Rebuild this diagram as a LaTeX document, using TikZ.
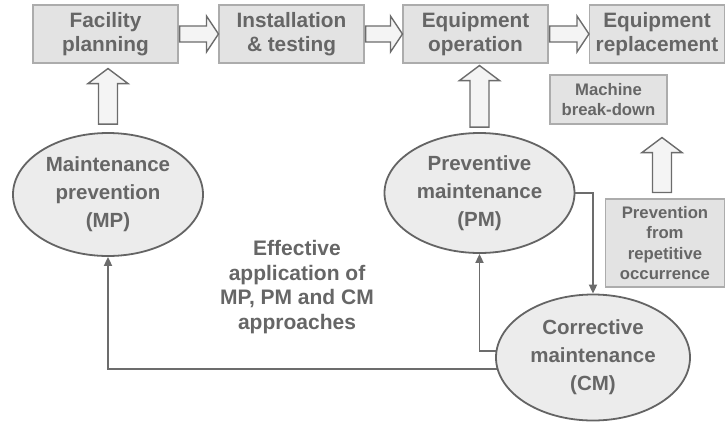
\documentclass[tikz,border=0pt]{standalone}
\usepackage{fontspec}
\setmainfont{Liberation Sans}
\usetikzlibrary{calc,shapes.geometric,arrows.meta}

\definecolor{inkgray}{RGB}{102,102,102}
\definecolor{boxfill}{RGB}{227,227,227}
\definecolor{boxline}{RGB}{172,172,172}
\definecolor{ellfill}{RGB}{236,236,236}
\definecolor{ellline}{RGB}{100,100,100}
\definecolor{arrfill}{RGB}{244,244,244}
\definecolor{arrline}{RGB}{108,108,108}

\tikzset{
  stagebox/.style={draw=boxline, fill=boxfill, line width=1.1pt, inner sep=0pt,
    minimum width=145pt, minimum height=58pt, align=center, text=inkgray,
    font=\fontsize{20.8}{23.5}\selectfont\bfseries},
  smallbox/.style={draw=boxline, fill=boxfill, line width=1.1pt, inner sep=0pt,
    align=center, text=inkgray, font=\fontsize{16.7}{20.5}\selectfont\bfseries},
  approach/.style={ellipse, draw=ellline, fill=ellfill, line width=1.8pt, inner sep=0pt,
    align=center, text=inkgray, font=\fontsize{20.5}{28}\selectfont\bfseries},
  plaintext/.style={inner sep=0pt, align=center, text=inkgray,
    font=\fontsize{21}{24.5}\selectfont\bfseries},
  blockarrow/.style={draw=arrline, fill=arrfill, line width=1.4pt, line join=miter},
  link/.style={draw=arrline, line width=1.8pt,
    -{Triangle[length=9pt,width=8pt]}},
}

% hollow arrow pointing right, from the east side of #1 to the west side of #2
\newcommand\blockright[2]{%
  \draw[blockarrow] let \p1=(#1.east), \p2=(#2.west) in
    (\x1+1pt,\y1+8pt) -- (\x2-12pt,\y1+8pt) -- (\x2-12pt,\y1+18pt) -- (\x2,\y1)
    -- (\x2-12pt,\y1-18pt) -- (\x2-12pt,\y1-8pt) -- (\x1+1pt,\y1-8pt) -- cycle;}

% hollow arrow pointing up from node #1 to node #2;
% #3 horizontal offset, #4 gap above #1, #5 gap below #2
\newcommand\blockup[5]{%
  \draw[blockarrow] let \p1=(#1.north), \p2=(#2.south) in
    (\x1+#3-9.5pt,\y1+#4) -- (\x1+#3-9.5pt,\y2-#5-15pt) -- (\x1+#3-20pt,\y2-#5-15pt)
    -- (\x1+#3,\y2-#5) -- (\x1+#3+20pt,\y2-#5-15pt) -- (\x1+#3+9.5pt,\y2-#5-15pt)
    -- (\x1+#3+9.5pt,\y1+#4) -- cycle;}

\begin{document}
\begin{tikzpicture}[x=1pt, y=-1pt]
  \useasboundingbox (0,0) rectangle (725,421);

  % life-cycle stages
  \node[stagebox] (fp) at (105.5,34) {Facility\\planning};
  \node[stagebox] (it) at (291.5,34) {Installation\\\& testing};
  \node[stagebox] (eo) at (475.5,34) {Equipment\\operation};
  \node[stagebox, minimum width=135pt] (er) at (657,34) {Equipment\\replacement};

  \node[smallbox, minimum width=117pt, minimum height=49pt] (mb) at (608.5,99.5)
    {Machine\\break-down};
  \node[smallbox, minimum width=119pt, minimum height=88pt] (pv) at (665,243)
    {Prevention\\from\\repetitive\\occurrence};

  % maintenance approaches
  \node[approach, minimum width=190pt, minimum height=123pt] (mp) at (108,194.5)
    {Maintenance\\prevention\\(MP)};
  \node[approach, minimum width=190pt, minimum height=120pt] (pm) at (479.5,193)
    {Preventive\\maintenance\\(PM)};
  \node[approach, minimum width=194pt, minimum height=126pt] (cm) at (593,357.5)
    {Corrective\\maintenance\\(CM)};

  \node[plaintext] (eff) at (297,287)
    {Effective\\application of\\MP, PM and CM\\approaches};

  % flow between stages
  \blockright{fp}{it}
  \blockright{it}{eo}
  \blockright{eo}{er}

  \blockup{mp}{fp}{0pt}{8pt}{5pt}
  \blockup{pm}{eo}{0pt}{5pt}{2pt}
  \blockup{pv}{mb}{-3pt}{6pt}{13pt}

  % feedback links
  \draw[link] (pm.east) -| (cm.north);
  \draw[link] (cm.176) -| (pm.south);
  \draw[link] (cm.187) -| (mp.south);
\end{tikzpicture}
\end{document}
